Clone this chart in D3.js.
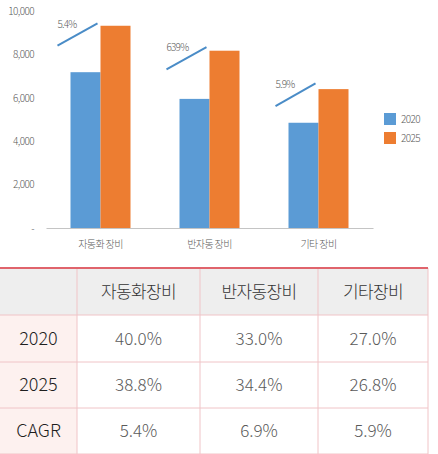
<!DOCTYPE html>
<html>
<head>
<meta charset="utf-8">
<script src="https://cdn.jsdelivr.net/npm/d3@7"></script>
<style>
  html, body { margin: 0; padding: 0; background: #fff; }
  svg { display: block; }
</style>
</head>
<body>
<svg id="chart" width="438" height="454"></svg>
<script>
// chart data
const categories = ["자동화 장비", "반자동 장비", "기타 장비"];
const years = ["2020", "2025"];
const values2020 = [7180, 5950, 4850];
const values2025 = [9320, 8170, 6400];
const yTicks = [0, 2000, 4000, 6000, 8000, 10000];
// growth arrows drawn over each group (in value units)
const cagrLabels = ["5.4%", "639%", "5.9%"];
const cagrFrom = [8400, 7310, 5620];
const cagrTo = [9430, 8330, 6670];

// table data
const tableHeader = ["", "자동화장비", "반자동장비", "기타장비"];
const rowLabels = ["2020", "2025", "CAGR"];
const share2020 = ["40.0%", "33.0%", "27.0%"];
const share2025 = ["38.8%", "34.4%", "26.8%"];
const cagrValues = ["5.4%", "6.9%", "5.9%"];

const colors = { "2020": "#5b9bd5", "2025": "#ed7d31" };
const font = "'Noto Sans CJK KR', 'Noto Sans', sans-serif";

const svg = d3.select("#chart");

// ---------- bar chart ----------
const x = d3.scaleBand()
    .domain(categories)
    .range([46, 373]);

const xSub = d3.scaleBand()
    .domain(years)
    .range([x.bandwidth() / 2 - 30, x.bandwidth() / 2 + 30]);

const y = d3.scaleLinear()
    .domain([0, 10000])
    .range([228, 11]);

const yAxis = d3.axisLeft(y)
    .tickValues(yTicks)
    .tickSize(0)
    .tickPadding(3)
    .tickFormat(d => d === 0 ? "-" : d3.format(",")(d));

svg.append("g")
    .attr("transform", "translate(37,0)")
    .call(yAxis)
    .call(g => g.select(".domain").remove())
    .call(g => g.selectAll("text")
        .attr("fill", "#595959")
        .style("font-family", font)
        .style("font-weight", 300)
        .style("font-size", "10px")
        .style("letter-spacing", "-0.6px"));

const xAxis = d3.axisBottom(x)
    .tickSize(0)
    .tickSizeOuter(0)
    .tickPadding(13);

svg.append("g")
    .attr("transform", "translate(0,228)")
    .call(xAxis)
    .call(g => g.select(".domain").attr("stroke", "#c4c4c4").attr("stroke-width", 1.2))
    .call(g => g.selectAll("text")
        .attr("fill", "#595959")
        .style("font-family", font)
        .style("font-weight", 300)
        .style("font-size", "10px")
        .style("letter-spacing", "-0.6px"));

const seriesData = categories.map((c, i) => ({
    cat: c,
    vals: [{ year: "2020", v: values2020[i] }, { year: "2025", v: values2025[i] }]
}));

const groups = svg.append("g")
    .selectAll("g")
    .data(seriesData)
    .join("g")
    .attr("transform", d => "translate(" + x(d.cat) + ",0)");

groups.selectAll("rect")
    .data(d => d.vals)
    .join("rect")
    .attr("x", d => xSub(d.year))
    .attr("y", d => y(d.v))
    .attr("width", xSub.bandwidth())
    .attr("height", d => y(0) - y(d.v))
    .attr("fill", d => colors[d.year]);

// growth lines + labels
const growth = categories.map((c, i) => ({ cat: c, from: cagrFrom[i], to: cagrTo[i], label: cagrLabels[i] }));
const gGrowth = svg.append("g");
gGrowth.selectAll("line")
    .data(growth)
    .join("line")
    .attr("x1", d => x(d.cat) + x.bandwidth() / 2 - 43)
    .attr("x2", d => x(d.cat) + x.bandwidth() / 2 - 3)
    .attr("y1", d => y(d.from))
    .attr("y2", d => y(d.to))
    .attr("stroke", "#4a8cc7")
    .attr("stroke-width", 2);

gGrowth.selectAll("text")
    .data(growth)
    .join("text")
    .attr("x", d => x(d.cat) + x.bandwidth() / 2 - 43)
    .attr("y", d => y(d.from) - 18)
    .attr("fill", "#595959")
    .style("font-family", font)
    .style("font-weight", 300)
    .style("font-size", "10px")
    .style("letter-spacing", "-0.8px")
    .text(d => d.label);

// legend
const legend = svg.append("g")
    .attr("transform", "translate(384,113)");
const legendItem = legend.selectAll("g")
    .data(years)
    .join("g")
    .attr("transform", (d, i) => "translate(0," + (i * 19) + ")");
legendItem.append("rect")
    .attr("width", 12)
    .attr("height", 12)
    .attr("fill", d => colors[d]);
legendItem.append("text")
    .attr("x", 17)
    .attr("y", 6)
    .attr("dy", "0.35em")
    .attr("fill", "#595959")
    .style("font-family", font)
    .style("font-weight", 300)
    .style("font-size", "10px")
    .style("letter-spacing", "-0.6px")
    .text(d => d);

// ---------- table ----------
const colEdges = [0, 77, 200, 318, 428];
const rowEdges = [268, 315, 362, 408, 454];
const rows = [
    tableHeader,
    [rowLabels[0]].concat(share2020),
    [rowLabels[1]].concat(share2025),
    [rowLabels[2]].concat(cagrValues)
];

const table = svg.append("g");

// backgrounds
table.append("rect")
    .attr("x", colEdges[0]).attr("y", rowEdges[0])
    .attr("width", colEdges[4] - colEdges[0]).attr("height", rowEdges[1] - rowEdges[0])
    .attr("fill", "#eeeeee");
table.append("rect")
    .attr("x", colEdges[0]).attr("y", rowEdges[1])
    .attr("width", colEdges[1] - colEdges[0]).attr("height", rowEdges[4] - rowEdges[1])
    .attr("fill", "#fdf1ef");

// grid lines
table.selectAll("line.h")
    .data(rowEdges.slice(1))
    .join("line")
    .attr("class", "h")
    .attr("x1", colEdges[0]).attr("x2", colEdges[4])
    .attr("y1", d => d).attr("y2", d => d)
    .attr("stroke", "#f0c4c7").attr("stroke-width", 1);
table.selectAll("line.v")
    .data(colEdges.slice(1))
    .join("line")
    .attr("class", "v")
    .attr("x1", d => d).attr("x2", d => d)
    .attr("y1", rowEdges[0]).attr("y2", rowEdges[4])
    .attr("stroke", "#f0c4c7").attr("stroke-width", 1);
table.append("line")
    .attr("x1", 0).attr("x2", colEdges[4])
    .attr("y1", rowEdges[0]).attr("y2", rowEdges[0])
    .attr("stroke", "#e0646c").attr("stroke-width", 2);

rows.forEach((row, r) => {
    table.selectAll("text.r" + r)
        .data(row)
        .join("text")
        .attr("class", "r" + r)
        .attr("x", (d, c) => (colEdges[c] + colEdges[c + 1]) / 2)
        .attr("y", (rowEdges[r] + rowEdges[r + 1]) / 2)
        .attr("dy", "0.36em")
        .attr("text-anchor", "middle")
        .attr("fill", (d, c) => r === 0 ? "#333" : (c === 0 ? "#1e1e1e" : "#5a5a5a"))
        .style("font-family", font)
        .style("font-weight", 300)
        .style("font-size", (d, c) => r > 0 && c === 0 ? "18px" : "17px")
        .style("letter-spacing", (d, c) => r === 0 ? "-0.6px" : "0px")
        .text(d => d);
});
</script>
</body>
</html>
